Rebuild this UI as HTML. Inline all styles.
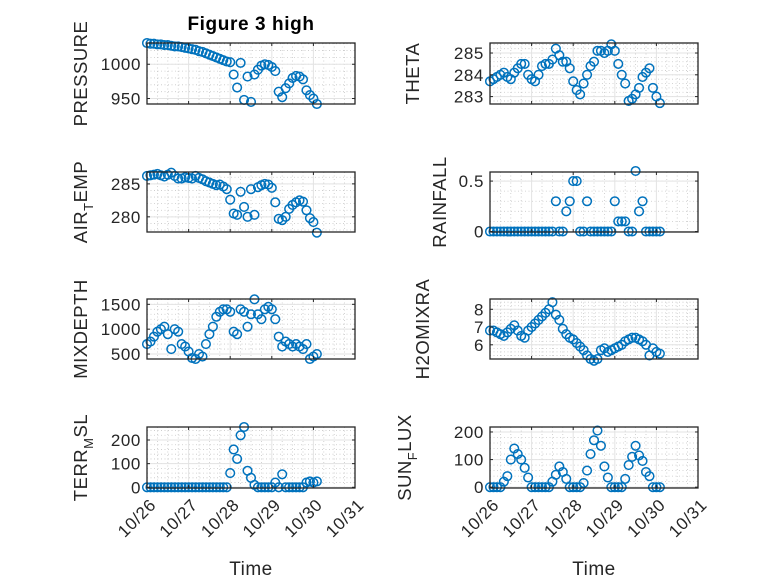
<!DOCTYPE html>
<html><head><meta charset="utf-8"><style>
html,body{margin:0;padding:0;background:#fff;}
svg{display:block;font-family:"Liberation Sans","DejaVu Sans",sans-serif;}
</style></head><body>
<svg id="fig" width="778" height="583" viewBox="0 0 778 583" xmlns="http://www.w3.org/2000/svg">
<rect width="778" height="583" fill="#fff"/>
<text x="251" y="30" text-anchor="middle" font-size="19" font-weight="bold" letter-spacing="0.6" fill="#000">Figure 3 high</text>
<text x="251" y="575" text-anchor="middle" font-size="19" letter-spacing="0.5" fill="#262626">Time</text>
<text x="594" y="575" text-anchor="middle" font-size="19" letter-spacing="0.5" fill="#262626">Time</text>
</svg>
<script>
const hours = [0,2,4,6,8,10,12,14,16,18,20,22,24,26,28,30,32,34,36,38,40,42,44,46,48,50,52,54,56,58,60,62,64,66,68,70,72,74,76,78,80,82,84,86,88,90,92,94,96,98];
const dateTicks = ["10/26","10/27","10/28","10/29","10/30","10/31"];
const pressure = [1031,1030,1030,1029,1029,1028,1028,1027,1026,1026,1025,1024,1023,1022,1021,1019,1018,1016,1014,1012,1010,1008,1006,1004,1003,985,966,1002,948,982,945,985,992,998,1000,999,996,990,960,952,965,972,980,983,982,978,962,955,950,942];
const airTemp = [286.2,286.3,286.4,286.5,286.3,286.1,286.4,286.7,286.2,285.8,285.8,286.0,285.9,285.8,286.2,285.9,285.7,285.4,285.2,285.0,284.8,284.9,284.6,284.2,282.6,280.5,280.3,283.8,281.5,280.0,284.2,280.3,284.5,284.8,285.0,284.9,284.4,282.2,279.7,279.5,280.0,281.2,281.8,282.2,282.5,282.3,281.0,279.8,279.2,277.6];
const mixDepth = [700,750,850,950,1000,1050,900,600,1000,950,700,650,550,420,400,500,450,700,900,1050,1250,1350,1400,1400,1350,950,900,1400,1350,1050,1300,1600,1300,1200,1400,1450,1400,1200,850,650,750,700,650,700,650,600,700,400,450,500];
const terrMsl = [0,0,0,0,0,0,0,0,0,0,0,0,0,0,0,0,0,0,0,0,0,0,0,0,60,160,120,220,255,70,40,10,0,0,0,0,0,20,0,55,0,0,0,0,0,0,20,25,20,25];
const theta = [283.7,283.8,283.9,284.0,284.1,283.9,283.8,284.1,284.3,284.5,284.5,284.0,283.8,283.7,284.0,284.4,284.5,284.5,284.7,285.2,284.9,284.6,284.6,284.3,283.7,283.3,283.1,283.6,284.0,284.4,284.6,285.1,285.1,285.0,285.1,285.4,285.1,284.5,284.0,283.6,282.8,282.9,283.1,283.4,283.9,284.1,284.3,283.4,283.0,282.7];
const rainfall = [0,0,0,0,0,0,0,0,0,0,0,0,0,0,0,0,0,0,0,0.3,0,0,0.2,0.3,0.5,0.5,0,0,0.3,0,0,0,0,0,0,0,0.3,0.1,0.1,0.1,0,0,0.6,0.2,0.3,0,0,0,0,0];
const h2oMix = [6.8,6.8,6.7,6.6,6.5,6.7,6.9,7.1,6.8,6.5,6.4,6.8,7.0,7.2,7.4,7.6,7.8,8.0,8.4,7.7,7.4,6.9,6.6,6.4,6.3,6.1,5.9,5.7,5.4,5.2,5.1,5.2,5.7,5.8,5.6,5.7,5.8,5.9,6.0,6.2,6.3,6.4,6.4,6.3,6.2,6.0,5.4,5.8,5.6,5.5];
const sunFlux = [0,0,0,0,20,40,100,140,120,100,70,35,0,0,0,0,0,0,20,45,75,55,30,0,0,0,0,15,60,120,170,205,150,75,35,0,0,0,0,30,80,110,150,115,95,55,40,0,0,0];
const pressureTicks = [950,1000];
const airTempTicks = [280,285];
const mixDepthTicks = [500,1000,1500];
const terrTicks = [0,100,200];
const thetaTicks = [283,284,285];
const rainTicks = [0,0.5];
const h2oTicks = [6,7,8];
const sunTicks = [0,100,200];

const svg = document.getElementById('fig');
const NS = 'http://www.w3.org/2000/svg';
function mk(tag, attrs, parent){
  const e = document.createElementNS(NS, tag);
  for (const k in attrs) e.setAttribute(k, attrs[k]);
  (parent||svg).appendChild(e);
  return e;
}
const COLS = [{x0:147,x1:355},{x0:490,x1:698}];
const ROWS = [{y0:43,y1:104},{y0:172,y1:232},{y0:299,y1:359},{y0:427,y1:488}];

function panel(key, col, row, values, ylo, yhi, ticks, minorStep, labelParts, labelX, showX){
  const {x0,x1} = COLS[col]; const {y0,y1} = ROWS[row];
  const g = mk('g', {});
  
  
  const xs = h => x0 + (h/24)/5*(x1-x0);
  const ys = v => y1 - (v-ylo)/(yhi-ylo)*(y1-y0);
  for (let d=0; d<=5*4; d++){
    if (d%4===0) continue;
    const x = xs(d*6);
    const l = mk('line',{x1:x,x2:x,y1:y0,y2:y1,stroke:'#c8c8c8','stroke-width':0.8,'stroke-dasharray':'1,2.5'},g);
    
    
  }
  const start = Math.ceil(ylo/minorStep)*minorStep;
  for (let v=start; v<=yhi+1e-9; v+=minorStep){
    const y = ys(v);
    const l = mk('line',{x1:x0,x2:x1,y1:y,y2:y,stroke:'#c8c8c8','stroke-width':0.8,'stroke-dasharray':'1,2.5'},g);
    
    
  }
  dateTicks.forEach((t,i)=>{
    const x = xs(i*24);
    const l = mk('line',{x1:x,x2:x,y1:y0,y2:y1,stroke:'#e3e3e3','stroke-width':1},g);
    
    
  });
  ticks.forEach(v=>{
    const y = ys(v);
    const l = mk('line',{x1:x0,x2:x1,y1:y,y2:y,stroke:'#e3e3e3','stroke-width':1},g);
    
    
  });
  values.forEach((v,i)=>{
    const c = mk('circle',{cx:xs(hours[i]),cy:ys(v),r:4.3,fill:'none',stroke:'#0072BD','stroke-width':1.5},g);
    
    
  });
  const b = mk('rect',{x:x0,y:y0,width:x1-x0,height:y1-y0,fill:'none',stroke:'#262626','stroke-width':1.3},g);
  
  
  dateTicks.forEach((t,i)=>{
    const x = xs(i*24);
    mk('line',{x1:x,x2:x,y1:y1,y2:y1-3,stroke:'#262626','stroke-width':1},g);
    mk('line',{x1:x,x2:x,y1:y0,y2:y0+3,stroke:'#262626','stroke-width':1},g);
    if (showX){
      const bx = x+10, by = y1+18;
      const tx = mk('text',{x:bx,y:by,'text-anchor':'end','font-size':17,'letter-spacing':0.6,fill:'#262626',transform:`rotate(-45 ${bx} ${by})`},g);
      tx.textContent = t;
      
      
    }
  });
  ticks.forEach(v=>{
    const y = ys(v);
    mk('line',{x1:x0,x2:x0+3,y1:y,y2:y,stroke:'#262626','stroke-width':1},g);
    mk('line',{x1:x1,x2:x1-3,y1:y,y2:y,stroke:'#262626','stroke-width':1},g);
    const tx = mk('text',{x:x0-6,y:y+6,'text-anchor':'end','font-size':17,'letter-spacing':0.6,fill:'#262626'},g);
    tx.textContent = String(v);
    
    
  });
  const cy = (y0+y1)/2;
  const lab = mk('text',{x:labelX,y:cy,'text-anchor':'middle','font-size':18.5,'letter-spacing':0.5,fill:'#262626',transform:`rotate(-90 ${labelX} ${cy})`},g);
  
  
  labelParts.forEach(p=>{
    const ts = mk('tspan',{},lab);
    if (p.sub){ ts.setAttribute('font-size','13'); ts.setAttribute('dy','6'); }
    else if (p.after){ ts.setAttribute('dy','-6'); }
    ts.textContent = p.t;
  });
}
panel('pressure',0,0,pressure,942,1031,pressureTicks,10,[{t:'PRESSURE'}],87,false);
panel('air-temp',0,1,airTemp,277.7,286.8,airTempTicks,1,[{t:'AIR'},{t:'T',sub:true},{t:'EMP',after:true}],87,false);
panel('mixdepth',0,2,mixDepth,400,1607,mixDepthTicks,100,[{t:'MIXDEPTH'}],87,false);
panel('terr-msl',0,3,terrMsl,-3,255,terrTicks,20,[{t:'TERR'},{t:'M',sub:true},{t:'SL',after:true}],87,true);
panel('theta',1,0,theta,282.66,285.46,thetaTicks,0.2,[{t:'THETA'}],419,false);
panel('rainfall',1,1,rainfall,-0.005,0.59,rainTicks,0.1,[{t:'RAINFALL'}],446,false);
panel('h2omixra',1,2,h2oMix,5.2,8.58,h2oTicks,0.2,[{t:'H2OMIXRA'}],429,false);
panel('sun-flux',1,3,sunFlux,-3,218,sunTicks,20,[{t:'SUN'},{t:'F',sub:true},{t:'LUX',after:true}],411,true);
</script>
</body></html>
